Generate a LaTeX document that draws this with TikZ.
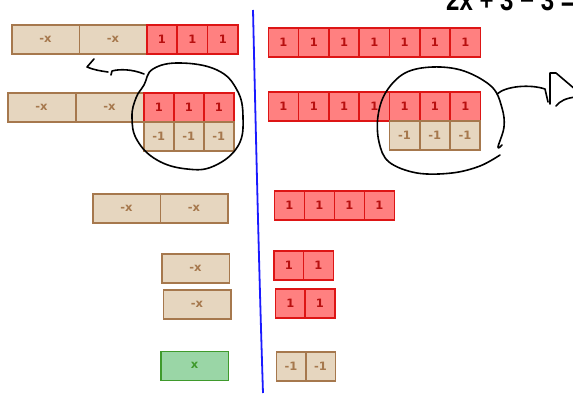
\documentclass[tikz,border=0pt]{standalone}
\usepackage{fontspec}
\setmainfont{DejaVu Sans}
\newfontfamily\eqfont{Liberation Sans}
\usetikzlibrary{positioning}
\definecolor{tanF}{HTML}{E6D6BF}
\definecolor{tanD}{HTML}{A6784D}
\definecolor{redF}{HTML}{FF8080}
\definecolor{redD}{HTML}{DD1515}
\definecolor{redT}{HTML}{B81010}
\definecolor{grnF}{HTML}{9AD6A6}
\definecolor{grnD}{HTML}{3F9A2C}
\definecolor{ax}{HTML}{1A1AFF}

\begin{document}
\begin{tikzpicture}[x=1pt,y=-1pt,
  tile/.style={draw,line width=1.6pt,inner sep=0pt,minimum height=29pt,anchor=north west,
    font=\bfseries\fontsize{11.5}{13}\selectfont},
  one/.style={tile,fill=redF,draw=redD,text=redT,minimum width=30.3pt},
  neg/.style={tile,fill=tanF,draw=tanD,text=tanD,minimum width=30pt},
  negx/.style={tile,fill=tanF,draw=tanD,text=tanD,minimum width=67.5pt},
  posx/.style={tile,fill=grnF,draw=grnD,text=grnD,minimum width=67.5pt},
  pen/.style={draw=black,line width=1.6pt,line cap=round,line join=round}]
\useasboundingbox (0,0) rectangle (573,395);

% ---------- left side: the tiles, step by step ----------
\foreach \x [count=\i] in {11,78.5} \node[negx] (l1x\i) at (\x,24) {-x};
\foreach \k in {0,1,2} \node[one] (l1o\k) at (146+30.4*\k,24) {1};

\foreach \x [count=\i] in {7,75} \node[negx] (l2x\i) at (\x,92) {-x};
\foreach \k in {0,1,2} {
  \node[one] (l2o\k) at (143+30*\k,92) {1};
  \node[neg] (l2n\k) at (143+30*\k,121.5) {-1};
}

\foreach \x [count=\i] in {92,159.5} \node[negx] (l3x\i) at (\x,193) {-x};
\node[negx] (l4x) at (161,253) {-x};
\node[negx] (l5x) at (162.5,289.5) {-x};
\node[posx] (l6x) at (160,350.5) {x};

% ---------- right side ----------
\foreach \k in {0,...,6} {
  \node[one] (r1o\k) at (267.5+30.3*\k,27) {1};
  \node[one] (r2o\k) at (267.5+30.3*\k,91.5) {1};
}
\foreach \k in {0,1,2} \node[neg] (r2n\k) at (388.7+30.3*\k,120.5) {-1};
\foreach \k in {0,...,3} \node[one] (r3o\k) at (273.5+30*\k,190.5) {1};
\foreach \k in {0,1} {
  \node[one] (r4o\k) at (273+29.5*\k,250) {1};
  \node[one] (r5o\k) at (274.5+29.5*\k,288.5) {1};
  \node[neg,minimum width=29.5pt] (r6n\k) at (275.5+29.5*\k,351) {-1};
}

% ---------- the equals line ----------
\coordinate (axTop) at (253,10);
\coordinate (axBot) at (263,393);
\draw[ax,line width=1.8pt] (axTop) .. controls (256,140) and (259,270) .. (axBot);

% ---------- zero pairs, circled by hand ----------
\draw[pen] plot[smooth cycle,tension=0.7] coordinates
  {(144,85) (153,69) (180,63) (217,70) (237,90) (243,117) (238,146) (214,166)
   (187,169) (157,160) (137,140) (132,117) (136,98)};
\draw[pen] plot[smooth,tension=0.6] coordinates
  {(502,145) (498,147) (504,127) (502,108) (492,87) (464,71) (433,67) (405,73)
   (386,92) (378,116) (379,142) (389,162) (417,173) (452,173) (480,166) (500,155)};

% left: take the pairs away
\coordinate (lTail) at (144,74);
\coordinate (lTip) at (87,67);
\draw[pen] (lTail) .. controls (132,69) and (119,69) .. (112,71) -- (111,75);
\draw[pen] (108,72) .. controls (101,71) and (94,70) .. (lTip) -- (94,59);

% right: take the pairs away
\coordinate (rTail) at (497,94);
\begin{scope}
\clip (0,0) rectangle (573,395);
\draw[pen] (rTail) .. controls (506,86) and (530,84) .. (545,89) -- (548,102);
\draw[pen] (550,104) -- (550,73) -- (556,73) -- (576,90);
\draw[pen] (556,106) .. controls (560,101) and (566,98) .. (576,97);
% the equation, cut off at the top
\node[font=\eqfont\bfseries\fontsize{24}{26}\selectfont,anchor=base west,inner sep=0pt,
  yscale=1.25] (eqn) at (446,11) {2x + 3 − 3 = 7 − 3};
\end{scope}
\end{tikzpicture}
\end{document}
